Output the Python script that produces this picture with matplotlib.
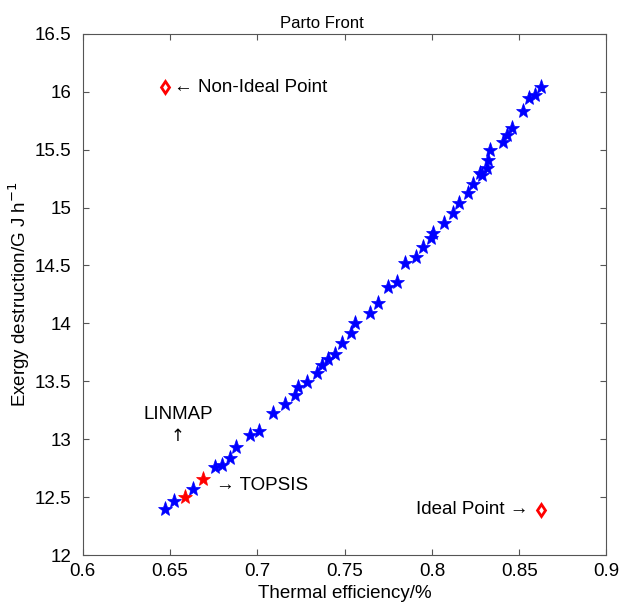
import numpy as np
import matplotlib
matplotlib.use("Agg")
import matplotlib.pyplot as plt

plt.rcParams['font.family'] = ['Liberation Sans', 'DejaVu Sans']

# pareto front points (thermal efficiency, exergy destruction)
eff = [0.6471, 0.6523, 0.6632, 0.6758, 0.6798, 0.6844, 0.6878, 0.6958, 0.7010,
       0.7090, 0.7159, 0.7216, 0.7233, 0.7285, 0.7342, 0.7371, 0.7405, 0.7445,
       0.7485, 0.7537, 0.7560, 0.7646, 0.7691, 0.7749, 0.7800, 0.7846, 0.7909,
       0.7949, 0.7995, 0.8006, 0.8069, 0.8121, 0.8155, 0.8207, 0.8235, 0.8275,
       0.8287, 0.8316, 0.8321, 0.8333, 0.8407, 0.8430, 0.8459, 0.8522, 0.8556,
       0.8590, 0.8625]
exd = [12.40, 12.47, 12.57, 12.76, 12.78, 12.84, 12.93, 13.04, 13.07,
       13.23, 13.30, 13.38, 13.45, 13.49, 13.57, 13.64, 13.69, 13.74,
       13.83, 13.92, 14.00, 14.09, 14.18, 14.31, 14.36, 14.52, 14.57,
       14.66, 14.74, 14.78, 14.87, 14.95, 15.04, 15.13, 15.20, 15.30,
       15.28, 15.34, 15.41, 15.50, 15.57, 15.63, 15.69, 15.83, 15.95,
       15.97, 16.04]

# decision points
linmap = (0.6586, 12.50)
topsis = (0.6689, 12.656)
ideal = (0.8625, 12.39)
non_ideal = (0.6471, 16.04)

fig = plt.figure(figsize=(6.22, 6.04), dpi=100)
ax = fig.add_axes([0.133, 0.081, 0.842, 0.863])

ax.plot(eff, exd, '*', color='blue', markersize=11, markeredgewidth=0.5)
ax.plot([linmap[0], topsis[0]], [linmap[1], topsis[1]], '*', color='red',
        markersize=11, markeredgewidth=0.5)
ax.plot([ideal[0], non_ideal[0]], [ideal[1], non_ideal[1]], 'd', color='red',
        markerfacecolor='white', markersize=6, markeredgewidth=2)

fs = 13.5
ax.text(non_ideal[0] + 0.005, non_ideal[1], '\u2190 Non-Ideal Point', fontsize=fs,
        va='center', ha='left')
ax.text(ideal[0] - 0.007, ideal[1], 'Ideal Point \u2192', fontsize=fs,
        va='center', ha='right')
ax.text(0.6545, 13.21, 'LINMAP', fontsize=fs, ha='center', va='center')
ax.text(0.6545, 13.03, '\u2191', fontsize=12, ha='center', va='center',
        family=['DejaVu Sans'])
ax.text(0.6765, 12.6, '\u2192 TOPSIS', fontsize=fs, ha='left', va='center')

ax.set_xlim(0.6, 0.9)
ax.set_ylim(12, 16.5)
ax.set_xticks([0.6, 0.65, 0.7, 0.75, 0.8, 0.85, 0.9])
ax.set_xticklabels(['0.6', '0.65', '0.7', '0.75', '0.8', '0.85', '0.9'])
ax.set_yticks(np.arange(12, 16.51, 0.5))
ax.set_yticklabels(['12', '12.5', '13', '13.5', '14', '14.5', '15', '15.5', '16', '16.5'])
ax.tick_params(direction='in', top=True, right=True, labelsize=fs, length=4,
               color='#555555')
ax.tick_params(axis='x', pad=6)
ax.tick_params(axis='y', pad=8)
for s in ax.spines.values():
    s.set_color('#555555')

ax.set_title('Parto Front', fontsize=12, pad=4, x=0.457)
ax.set_xlabel('Thermal efficiency/%', fontsize=fs, labelpad=3)
ax.set_ylabel('Exergy destruction/G J h$^{-1}$', fontsize=fs, labelpad=2)

fig.savefig('out.png', dpi=100)
